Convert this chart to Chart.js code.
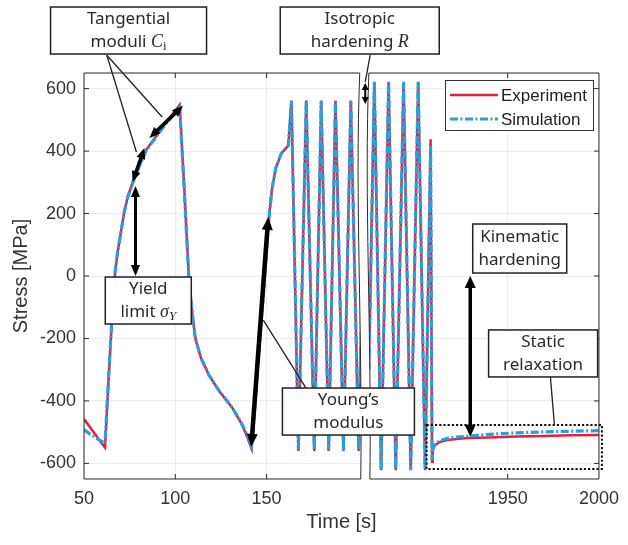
<!DOCTYPE html>
<html><head><meta charset="utf-8">
<script src="https://cdn.jsdelivr.net/npm/chart.js@4.4.1/dist/chart.umd.min.js"></script>
<style>html,body{margin:0;padding:0;background:#fff;}#wrap{width:628px;height:545px;position:relative;}</style>
</head><body><div id="wrap"><canvas id="c" width="628" height="545"></canvas></div>
<script>
// ---------------- data ----------------
const seriesNames = ['Experiment', 'Simulation'];
// left panel (time 50 .. ~201 s)
const timeLeft = [50, 53, 56, 59, 61.5, 63.5, 65.5, 67, 68.5, 70.5, 72, 74, 77, 80.4, 84.2, 89.7, 95, 102.4, 105, 107.4, 109.3, 111, 114, 118.5, 124, 131, 136, 139, 141.8, 146, 150, 151.5, 153, 155, 158, 161.9, 163.6, 167.4, 171.7, 176.1, 179.9, 184, 187.7, 192.1, 196.1, 200.4, 202];
const expLeft  = [-458, -482, -506, -530, -549, -330, -120, 10, 80, 150, 205, 255, 305, 355, 405, 450, 492, 548, 270, 0, -120, -200, -262, -318, -368, -420, -470, -510, -553, -230, 80, 200, 280, 345, 392, 418, 562, -560, 562, -560, 562, -560, 562, -560, 562, -560, -100];
const simLeft  = [-492, -505, -516, -527, -535, -320, -115, 12, 82, 150, 204, 253, 303, 353, 403, 447, 489, 540, 262, -5, -122, -200, -262, -318, -368, -420, -468, -505, -544, -225, 82, 200, 280, 345, 392, 418, 560, -558, 560, -558, 560, -558, 560, -558, 560, -558, -100];
// right panel (time ~1874 .. 2000 s)
const timeRight = [1874, 1877, 1880.7, 1884.8, 1888.7, 1893, 1896.9, 1901, 1904.8, 1907.8, 1908.6, 1909, 1910.5, 1913, 1917, 1922, 1928, 1940, 1955, 1970, 1985, 2000];
const expRight  = [-300, 622, -622, 622, -622, 622, -622, 622, -622, 438, -595, -555, -540, -531, -525, -522, -519, -517, -514, -512, -510, -509];
const simRight  = [-300, 620, -620, 620, -620, 620, -620, 620, -620, 415, -590, -552, -536, -527, -520, -516, -513, -507, -502, -499, -497, -495];
// axes
const yTicks = [-600, -400, -200, 0, 200, 400, 600];
const xTickTimes = [50, 100, 150, 1950, 2000];
const xTickLabels = ['50', '100', '150', '1950', '2000'];
const LEFT_END = 201, RIGHT_START = 1874;
const X_OFFSET = 1668; // axis shift for the right (post-break) panel
const xv = t => (t > 1000 ? t - X_OFFSET : t);

// ---------------- styles ----------------
const RED = '#e61e45', BLUE = '#2a9fd8', INK = '#222';
const AX = "'Liberation Sans', Arial, sans-serif";
const NOTE = "'Noto Sans', sans-serif";
const MATH = "'Liberation Serif', 'DejaVu Serif', serif";

// annotations (anchored in data coordinates: [time, stress])
const boxes = [
  {c: [74.4, 786], w: 156, h: 47, lines: [[{t: 'Tangential'}], [{t: 'moduli '}, {t: 'C', m: 'i'}, {t: 'i', m: 's'}]]},
  {c: [201.0, 786], w: 159, h: 47, lines: [[{t: 'Isotropic'}], [{t: 'hardening '}, {t: 'R', m: 'i'}]]},
  {c: [85.2, -78.5], w: 86, h: 47, lines: [[{t: 'Yield'}], [{t: 'limit '}, {t: 'σ', m: 'i'}, {t: 'Y', m: 'si'}]]},
  {c: [194.8, -434], w: 132, h: 47, lines: [[{t: 'Young’s'}], [{t: 'modulus'}]]},
  {c: [1956.6, 88], w: 94, h: 49, lines: [[{t: 'Kinematic'}], [{t: 'hardening'}]]},
  {c: [1969.4, -248], w: 109, h: 47, lines: [[{t: 'Static'}], [{t: 'relaxation'}]]}
];
const thinLines = [
  [[62.5, 707], [78.7, 397]],
  [[62.5, 707], [92.8, 509]],
  [[171.5, -358], [148.2, -141]],
  [[1874.7, 707], [204, 621]],
  [[1973.4, -323], [1975.6, -477]]
];
const doubleArrows = [
  {a: [76.6, 301], b: [83.1, 410], w: 3.5, hl: 11, hw: 9},
  {a: [85.8, 442], b: [104.2, 545], w: 3.5, hl: 11, hw: 9},
  {a: [78.2, 288], b: [78.2, 0], w: 3, hl: 11, hw: 9},
  {a: [141.6, -547], b: [150.9, 189], w: 4.5, hl: 13, hw: 11},
  {a: [204, 618], b: [204, 551], w: 2, hl: 7, hw: 7},
  {a: [1929.5, 0], b: [1929.5, -515], w: 3.5, hl: 12, hw: 11}
];
const dottedRect = {t0: 1905.6, t1: 2001.6, s0: -618, s1: -477};

// ---------------- build datasets ----------------
const pts = (ts, vs) => ts.map((t, i) => ({x: xv(t), y: vs[i]}));
const gapPt = {x: (LEFT_END + xv(RIGHT_START)) / 2, y: null};
const expData = [...pts(timeLeft, expLeft), gapPt, ...pts(timeRight, expRight)];
const simData = [...pts(timeLeft, simLeft), gapPt, ...pts(timeRight, simRight)];

function drawRich(ctx, segs, cx, cy) {
  const fontOf = s => s.m === 'i' ? `italic 18px ${MATH}` : s.m === 's' ? `13px ${MATH}` : s.m === 'si' ? `italic 13px ${MATH}` : `17px ${NOTE}`;
  let total = 0;
  segs.forEach(s => { ctx.font = fontOf(s); s.w = ctx.measureText(s.t).width; total += s.w; });
  let x = cx - total / 2;
  ctx.textAlign = 'left'; ctx.textBaseline = 'middle';
  segs.forEach(s => {
    ctx.font = fontOf(s);
    const dy = (s.m === 's' || s.m === 'si') ? 5 : 0;
    ctx.fillText(s.t, x, cy + dy);
    x += s.w;
  });
}
function head(ctx, fx, fy, tx, ty, len, wid) {
  const ang = Math.atan2(ty - fy, tx - fx);
  ctx.beginPath();
  ctx.moveTo(tx, ty);
  ctx.lineTo(tx - len * Math.cos(ang) + wid / 2 * Math.sin(ang), ty - len * Math.sin(ang) - wid / 2 * Math.cos(ang));
  ctx.lineTo(tx - len * Math.cos(ang) - wid / 2 * Math.sin(ang), ty - len * Math.sin(ang) + wid / 2 * Math.cos(ang));
  ctx.closePath();
  ctx.fill();
}

const deco = {
  id: 'deco',
  afterDatasetsDraw(chart) {
    const {ctx, chartArea: a, scales: {x, y}} = chart;
    const X = t => x.getPixelForValue(xv(t));
    const Y = s => y.getPixelForValue(s);
    const h = a.bottom - a.top;
    const xL = X(LEFT_END), xR = X(RIGHT_START);
    const cv = x0 => [[x0, a.top], [x0 - 5, a.top + 0.3 * h], [x0 + 3, a.top + 0.65 * h], [x0 + 1, a.bottom]];
    const L = cv(xL), R = cv(xR);
    ctx.save();
    // break band
    ctx.fillStyle = '#fff';
    ctx.beginPath();
    ctx.moveTo(...L[0]); ctx.bezierCurveTo(...L[1], ...L[2], ...L[3]);
    ctx.lineTo(...R[3]); ctx.bezierCurveTo(...R[2], ...R[1], ...R[0]);
    ctx.closePath(); ctx.fill();
    // frames
    ctx.strokeStyle = '#2b2b2b'; ctx.lineWidth = 1;
    ctx.beginPath();
    ctx.moveTo(a.left, a.bottom); ctx.lineTo(a.left, a.top); ctx.lineTo(...L[0]);
    ctx.bezierCurveTo(...L[1], ...L[2], ...L[3]); ctx.lineTo(a.left, a.bottom);
    ctx.stroke();
    ctx.beginPath();
    ctx.moveTo(...R[0]); ctx.lineTo(a.right, a.top); ctx.lineTo(a.right, a.bottom); ctx.lineTo(...R[3]);
    ctx.bezierCurveTo(...R[2], ...R[1], ...R[0]);
    ctx.stroke();
    // inner tick marks
    ctx.beginPath();
    yTicks.forEach(v => { const py = Y(v); ctx.moveTo(a.left, py); ctx.lineTo(a.left + 5, py); ctx.moveTo(a.right, py); ctx.lineTo(a.right - 5, py); });
    xTickTimes.slice(1, -1).forEach(t => { const px = X(t); ctx.moveTo(px, a.bottom); ctx.lineTo(px, a.bottom - 5); ctx.moveTo(px, a.top); ctx.lineTo(px, a.top + 5); });
    ctx.stroke();
    // dotted rectangle
    ctx.save();
    ctx.setLineDash([2.2, 2]); ctx.lineWidth = 2; ctx.strokeStyle = '#111';
    ctx.strokeRect(X(dottedRect.t0), Y(dottedRect.s1), X(dottedRect.t1) - X(dottedRect.t0), Y(dottedRect.s0) - Y(dottedRect.s1));
    ctx.restore();
    // thin leader lines
    ctx.strokeStyle = INK; ctx.lineWidth = 1.3;
    thinLines.forEach(([p, q]) => { ctx.beginPath(); ctx.moveTo(X(p[0]), Y(p[1])); ctx.lineTo(X(q[0]), Y(q[1])); ctx.stroke(); });
    // double arrows
    ctx.fillStyle = '#000'; ctx.strokeStyle = '#000';
    doubleArrows.forEach(d => {
      const ax = X(d.a[0]), ay = Y(d.a[1]), bx = X(d.b[0]), by = Y(d.b[1]);
      const len = Math.hypot(bx - ax, by - ay), ux = (bx - ax) / len, uy = (by - ay) / len;
      ctx.lineWidth = d.w;
      ctx.beginPath(); ctx.moveTo(ax + ux * d.hl * 0.8, ay + uy * d.hl * 0.8); ctx.lineTo(bx - ux * d.hl * 0.8, by - uy * d.hl * 0.8); ctx.stroke();
      head(ctx, bx, by, ax, ay, d.hl, d.hw);
      head(ctx, ax, ay, bx, by, d.hl, d.hw);
    });
    // text boxes
    boxes.forEach(b => {
      const cx = X(b.c[0]), cy = Y(b.c[1]);
      ctx.fillStyle = '#fff'; ctx.fillRect(cx - b.w / 2, cy - b.h / 2, b.w, b.h);
      ctx.strokeStyle = INK; ctx.lineWidth = 1.5; ctx.strokeRect(cx - b.w / 2, cy - b.h / 2, b.w, b.h);
      ctx.fillStyle = '#2a2a2a';
      drawRich(ctx, b.lines[0], cx, cy - 11.5);
      drawRich(ctx, b.lines[1], cx, cy + 11.5);
    });
    // legend
    const lw = 148, lh = 50, lx = a.right - lw - 6, ly = a.top + 7;
    ctx.fillStyle = '#fff'; ctx.fillRect(lx, ly, lw, lh);
    ctx.strokeStyle = '#333'; ctx.lineWidth = 1; ctx.strokeRect(lx + 0.5, ly + 0.5, lw, lh);
    chart.data.datasets.forEach((ds, i) => {
      const yy = ly + 15 + i * 24;
      ctx.save();
      ctx.strokeStyle = ds.borderColor; ctx.lineWidth = ds.borderWidth; ctx.setLineDash(ds.borderDash || []);
      ctx.beginPath(); ctx.moveTo(lx + 5, yy); ctx.lineTo(lx + 53, yy); ctx.stroke();
      ctx.restore();
      ctx.fillStyle = '#222'; ctx.font = `17px ${AX}`; ctx.textAlign = 'left'; ctx.textBaseline = 'middle';
      ctx.fillText(ds.label, lx + 56, yy + 1);
    });
    ctx.restore();
  }
};

new Chart(document.getElementById('c'), {
  type: 'line',
  data: {
    datasets: [
      {label: seriesNames[0], data: expData, borderColor: RED, borderWidth: 2.5, pointRadius: 0, tension: 0, spanGaps: false, order: 2, fill: false},
      {label: seriesNames[1], data: simData, borderColor: BLUE, borderWidth: 3.2, borderDash: [8, 2.5, 2, 2.5], pointRadius: 0, tension: 0, spanGaps: false, order: 1, fill: false}
    ]
  },
  options: {
    responsive: false, animation: false, devicePixelRatio: 1,
    layout: {padding: {left: 0, right: 24, top: 73, bottom: 0}},
    plugins: {legend: {display: false}, tooltip: {enabled: false}},
    scales: {
      x: {
        type: 'linear', min: xv(50), max: xv(2000),
        afterBuildTicks: s => { s.ticks = xTickTimes.map(t => ({value: xv(t)})); },
        afterFit: s => { s.height = 66; },
        ticks: {autoSkip: false, maxRotation: 0, padding: 9, color: '#333', font: {family: AX, size: 18},
          callback: v => { const i = xTickTimes.findIndex(t => Math.abs(xv(t) - v) < 1e-6); return i >= 0 ? xTickLabels[i] : ''; }},
        grid: {color: 'rgba(0,0,0,0.07)', drawTicks: false},
        border: {display: false},
        title: {display: true, text: 'Time [s]', color: '#333', font: {family: AX, size: 20}, padding: {top: 0, bottom: 11}}
      },
      y: {
        min: -650, max: 650,
        afterBuildTicks: s => { s.ticks = yTicks.map(v => ({value: v})); },
        afterFit: s => { s.width = 84; },
        ticks: {padding: 8, color: '#333', font: {family: AX, size: 18}},
        grid: {color: 'rgba(0,0,0,0.07)', drawTicks: false},
        border: {display: false},
        title: {display: true, text: 'Stress [MPa]', color: '#333', font: {family: AX, size: 20}, padding: {top: 9, bottom: 0}}
      }
    }
  },
  plugins: [deco]
});
</script></body></html>
